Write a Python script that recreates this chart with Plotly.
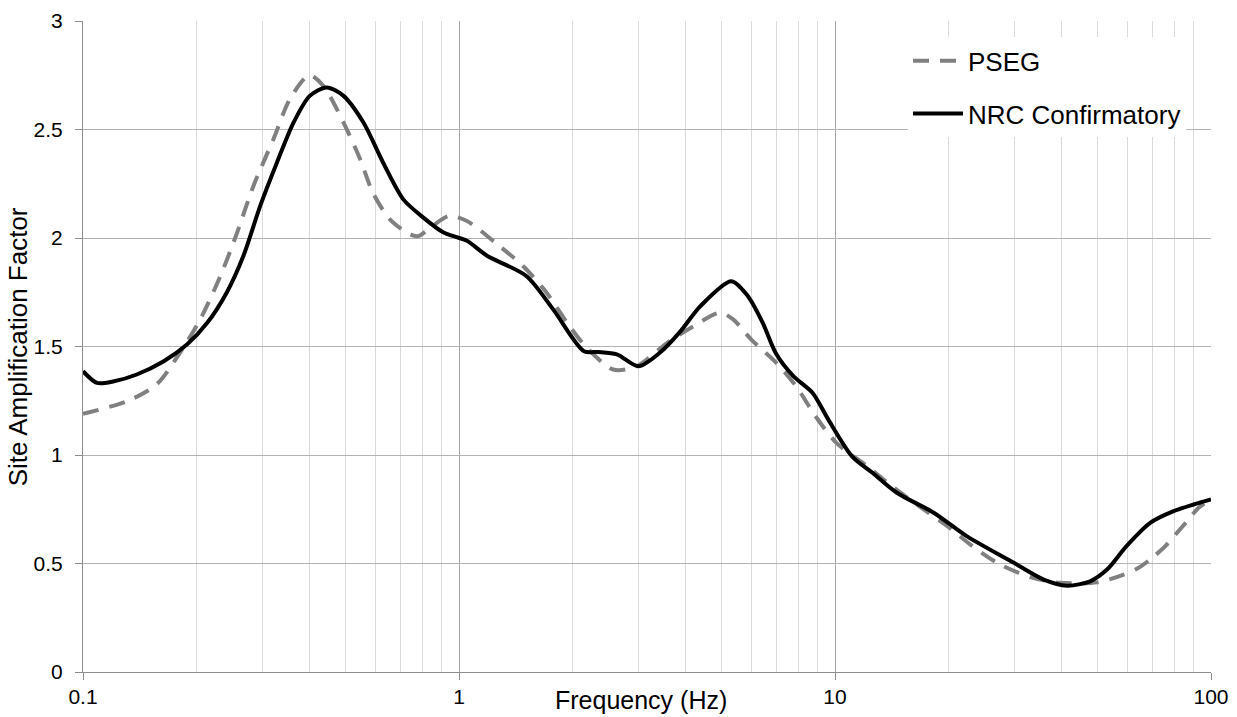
import plotly.graph_objects as go

# ---- data ----
nrc_freq = [0.1, 0.109, 0.121, 0.139, 0.164, 0.189, 0.214, 0.241, 0.267, 0.296,
            0.328, 0.363, 0.401, 0.445, 0.493, 0.557, 0.628, 0.711, 0.804, 0.91,
            0.99, 1.05, 1.19, 1.51, 1.78, 2.15, 2.35, 2.63, 3.0, 3.42, 3.86, 4.38,
            5.3, 5.85, 6.42, 6.98, 7.75, 8.72, 9.6, 11.1, 12.6, 14.6, 18.3, 22.4,
            29.9, 35.9, 41.4, 47.7, 52.9, 59.6, 68.9, 79.5, 89.9, 100]
nrc_amp = [1.386, 1.332, 1.34, 1.371, 1.432, 1.509, 1.609, 1.748, 1.917, 2.148,
           2.348, 2.532, 2.655, 2.694, 2.655, 2.532, 2.348, 2.178, 2.094, 2.025,
           2.003, 1.987, 1.917, 1.825, 1.671, 1.478, 1.475, 1.464, 1.409, 1.471, 1.565, 1.685,
           1.801, 1.735, 1.61, 1.465, 1.363, 1.286, 1.163, 0.994, 0.917, 0.826, 0.734, 0.626,
           0.503, 0.426, 0.398, 0.418, 0.472, 0.58, 0.687, 0.741, 0.772, 0.795]

pseg_freq = [0.1, 0.131, 0.157, 0.181, 0.205, 0.232, 0.257, 0.284, 0.321, 0.355,
             0.40, 0.436, 0.493, 0.546, 0.59, 0.655, 0.74, 0.78, 0.85, 0.94,
             1.05, 1.28, 1.48, 1.71, 1.94, 2.15, 2.57, 2.97, 3.58, 4.21, 4.94,
             5.36, 5.99, 6.98, 7.88, 8.88, 10.1, 12.2, 14.2, 16.4, 19.9, 23.2, 27.5,
             33.6, 39.7, 49.8, 58.6, 64.2, 69.7, 75.6, 81.2, 86.4, 92.7, 100]
pseg_amp = [1.19, 1.248, 1.325, 1.471, 1.625, 1.825, 2.025, 2.24, 2.455, 2.64,
            2.75, 2.70, 2.532, 2.363, 2.209, 2.086, 2.017, 2.009, 2.055, 2.101,
            2.078, 1.963, 1.871, 1.748, 1.609, 1.509, 1.394, 1.409, 1.517, 1.594, 1.656,
            1.625, 1.532, 1.425, 1.317, 1.178, 1.055, 0.947, 0.855, 0.775, 0.672, 0.58, 0.495,
            0.434, 0.411, 0.413, 0.449, 0.48, 0.526, 0.58, 0.641, 0.695, 0.757, 0.795]

x_tickvals = [0.1, 1, 10, 100]
x_ticktext = ["0.1", "1", "10", "100"]
y_tickvals = [0, 0.5, 1, 1.5, 2, 2.5, 3]
y_ticktext = ["0", "0.5", "1", "1.5", "2", "2.5", "3"]

FONT = "Arial, 'Liberation Sans', sans-serif"

fig = go.Figure()
fig.add_trace(go.Scatter(
    x=pseg_freq, y=pseg_amp, mode="lines", name="PSEG", legendgroup="a",
    line=dict(color="#808080", width=4, dash="16px,11px", shape="spline", smoothing=0.8),
))
fig.add_trace(go.Scatter(
    x=nrc_freq, y=nrc_amp, mode="lines", name="NRC Confirmatory", legendgroup="b",
    line=dict(color="#000000", width=4, shape="spline", smoothing=0.8),
))

fig.update_layout(
    width=1237, height=717,
    margin=dict(l=83, r=26, t=21, b=45),
    paper_bgcolor="white", plot_bgcolor="white",
    font=dict(family=FONT, color="#000000"),
    showlegend=True,
    legend=dict(
        x=0.7314, y=0.975, xanchor="left", yanchor="top",
        bgcolor="white", borderwidth=0,
        font=dict(size=26, family=FONT, color="#000000"),
        tracegroupgap=16, itemwidth=50,
    ),
    xaxis=dict(
        type="log", range=[-1, 2], automargin=False,
        tickvals=x_tickvals, ticktext=x_ticktext,
        tickfont=dict(size=21, family=FONT, color="#000000"),
        showgrid=True, gridcolor="#a6a6a6", gridwidth=1,
        minor=dict(dtick="D1", showgrid=True, gridcolor="#d9d9d9", gridwidth=1, ticks=""),
        showline=True, linecolor="#8c8c8c", linewidth=1,
        ticks="outside", ticklen=7, tickcolor="#8c8c8c",
        ticklabelstandoff=-1,
        zeroline=False,
    ),
    yaxis=dict(
        range=[0, 3], automargin=False,
        tickvals=y_tickvals, ticktext=y_ticktext,
        tickfont=dict(size=21, family=FONT, color="#000000"),
        showgrid=True, gridcolor="#b3b3b3", gridwidth=1,
        showline=True, linecolor="#8c8c8c", linewidth=1,
        ticks="outside", ticklen=7, tickcolor="#8c8c8c",
        ticklabelstandoff=8,
        zeroline=False,
    ),
    annotations=[
        dict(text="Frequency (Hz)", xref="paper", yref="paper",
             x=0.4947, y=-0.0435, xanchor="center", yanchor="middle",
             showarrow=False, font=dict(size=25, family=FONT, color="#000000")),
        dict(text="Site Amplification Factor", xref="paper", yref="paper",
             x=-0.0576, y=0.4987, xanchor="center", yanchor="middle", textangle=-90,
             showarrow=False, font=dict(size=26, family=FONT, color="#000000")),
    ],
)

fig.write_html("out.html")
